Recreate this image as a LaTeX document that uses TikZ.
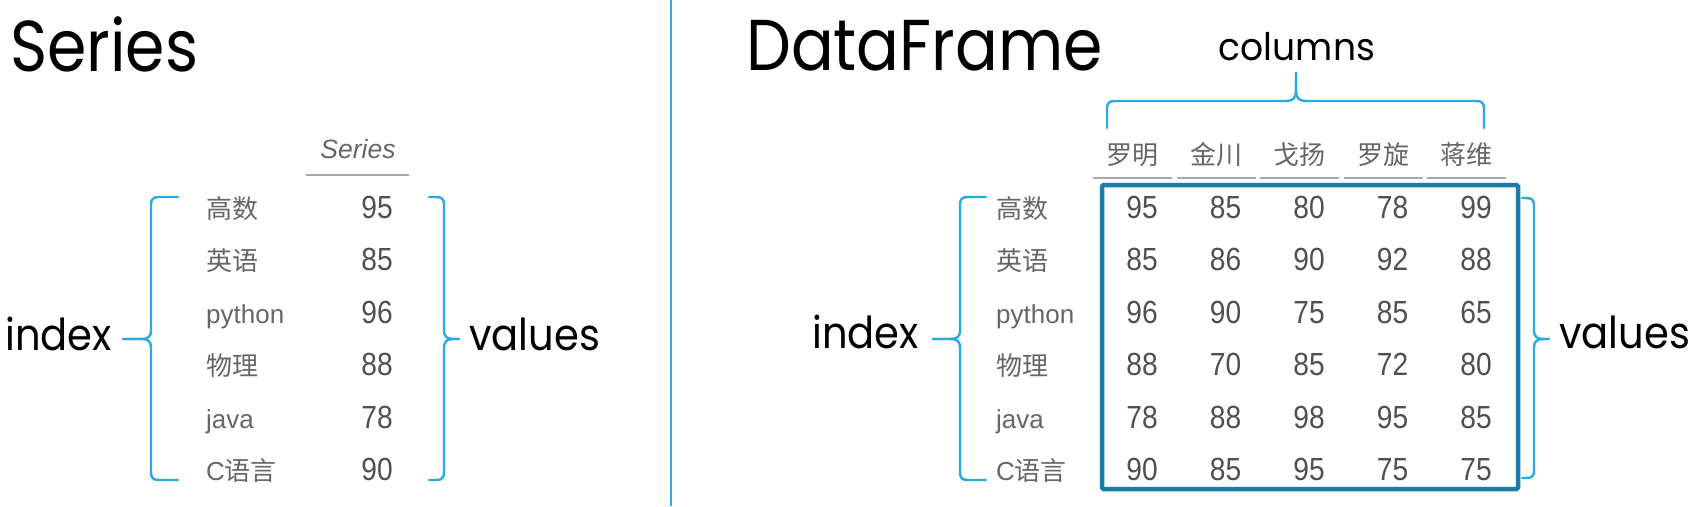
\documentclass[tikz,border=0pt]{standalone}
\usepackage{fontspec}
\setmainfont{Poppins}
\newfontfamily\titlefont{Poppins}[FakeStretch=0.88]
\newfontfamily\labfont{Poppins}[FakeStretch=0.91]
\newfontfamily\colfont{Poppins}[FakeStretch=0.95]
\newfontfamily\tabfont{Liberation Sans}
\newfontfamily\numfont{Liberation Sans}[FakeStretch=0.88]
\newfontfamily\cjk{Noto Sans CJK SC}
\definecolor{braceblue}{HTML}{29ABE2}
\definecolor{boxblue}{HTML}{187DA8}
\definecolor{idxgray}{HTML}{666666}
\definecolor{numgray}{HTML}{505050}
\definecolor{rulegray}{HTML}{A8A8A8}
% vertical brace: #1 end x, #2 spine x, #3 tip x, #4 top, #5 mid, #6 bottom, #7 side (1 = tip left, -1 = tip right)
\newcommand\myVbrace[7]{%
  \draw[bracestyle] (#1,#4) -- ({#2+8*#7},#4) .. controls ({#2+2*#7},#4) and (#2,{#4+2}) .. (#2,{#4+8})
     -- (#2,{#5-9}) .. controls (#2,{#5-2}) and ({#2-3*#7},#5) .. ({#2-10*#7},#5) -- (#3,#5);
  \draw[bracestyle] (#3,#5) -- ({#2-10*#7},#5) .. controls ({#2-3*#7},#5) and (#2,{#5+2}) .. (#2,{#5+9})
     -- (#2,{#6-8}) .. controls (#2,{#6-2}) and ({#2+2*#7},#6) .. ({#2+8*#7},#6) -- (#1,#6);
}
\begin{document}
\begin{tikzpicture}[x=1pt,y=-1pt,
  titlestyle/.style={font=\fontsize{72}{72}\selectfont\titlefont, anchor=base west, inner sep=0pt},
  labstyle/.style={font=\fontsize{44}{44}\selectfont\labfont, anchor=base west, inner sep=0pt},
  idxstyle/.style={font=\fontsize{26}{26}\selectfont\tabfont, text=idxgray, anchor=base west, inner sep=0pt},
  hdrstyle/.style={font=\fontsize{26}{26}\selectfont\cjk, text=idxgray, anchor=base, inner sep=0pt},
  numstyle/.style={font=\fontsize{32}{32}\selectfont\numfont, text=numgray, anchor=base east, inner sep=0pt},
  bracestyle/.style={draw=braceblue, line width=2.4pt, line join=round, line cap=round},
  rulestyle/.style={draw=rulegray, line width=2pt}]
\useasboundingbox[fill=white] (0,0) rectangle (1697,506);

% divider
\coordinate (divtop) at (671,0);
\coordinate (divbot) at (671,506);
\draw[draw=braceblue, line width=2pt] (divtop) -- (divbot);

% titles
\node[titlestyle] (titleS) at (10,71) {Series};
\node[titlestyle] (titleD) at (746,70) {DataFrame};

% ---------- Series ----------
\node[font=\fontsize{26.5}{26.5}\selectfont\tabfont\itshape, text=idxgray, anchor=base, inner sep=0pt] (hdrS) at (358,158) {Series};
\coordinate (hdrSl) at (306,175);
\coordinate (hdrSr) at (409,175);
\draw[draw=rulegray, line width=1.6pt] (hdrSl) -- (hdrSr);

\foreach \t [count=\i] in {{\cjk 高数},{\cjk 英语},python,{\cjk 物理},java,{C\cjk 语言}} {
  \node[idxstyle] (sidx\i) at (206,{218+52.5*(\i-1)}) {\t};
}
\foreach \v [count=\i] in {95,85,96,88,78,90} {
  \node[numstyle] (sval\i) at (393,{218+52.5*(\i-1)}) {\v};
}

\myVbrace{178}{151}{123}{197}{339}{480}{1}
\coordinate (sLtip) at (123,339);
\myVbrace{429}{444}{459}{197}{339}{480}{-1}
\coordinate (sRtip) at (459,339);
\node[labstyle] (sindex) at (5,350) {index};
\node[labstyle] (svalues) at (469,350) {values};

% ---------- DataFrame ----------
\foreach \h [count=\j] in {罗明,金川,戈扬,罗旋,蒋维} {
  \node[hdrstyle] (dh\j) at ({1132.5+83.5*(\j-1)},164) {\h};
  \coordinate (dhl\j) at ({1132.5+83.5*(\j-1)-39.5},178);
  \coordinate (dhr\j) at ({1132.5+83.5*(\j-1)+39.5},178);
  \draw[rulestyle] (dhl\j) -- (dhr\j);
}

\foreach \t [count=\i] in {{\cjk 高数},{\cjk 英语},python,{\cjk 物理},java,{C\cjk 语言}} {
  \node[idxstyle] (didx\i) at (996,{218+52.5*(\i-1)}) {\t};
}

\foreach \row [count=\i] in {{95,85,80,78,99},{85,86,90,92,88},{96,90,75,85,65},{88,70,85,72,80},{78,88,98,95,85},{90,85,95,75,75}} {
  \foreach \v [count=\j] in \row {
    \node[numstyle] (dv\i\j) at ({1158+83.5*(\j-1)},{218+52.5*(\i-1)}) {\v};
  }
}

\coordinate (boxtl) at (1102,185);
\coordinate (boxbr) at (1518,489);
\draw[draw=boxblue, line width=4.5pt, rounded corners=1.5pt] (boxtl) rectangle (boxbr);

\myVbrace{986}{960}{933}{197}{339}{480}{1}
\coordinate (dLtip) at (933,339);
\myVbrace{1522}{1534}{1549}{198}{339}{478}{-1}
\coordinate (dRtip) at (1549,339);
\node[labstyle] (dindex) at (812,348) {index};
\node[labstyle] (dvalues) at (1559,348) {values};

% columns brace
\draw[bracestyle] (1107,128) -- (1107,109) .. controls (1107,103) and (1109,101) .. (1115,101)
   -- (1286,101) .. controls (1293,101) and (1296,98) .. (1296,91) -- (1296,73);
\draw[bracestyle] (1296,73) -- (1296,91) .. controls (1296,98) and (1299,101) .. (1306,101)
   -- (1476,101) .. controls (1482,101) and (1484,103) .. (1484,109) -- (1484,128);
\coordinate (ctip) at (1296,73);
\node[font=\fontsize{38}{38}\selectfont\colfont, anchor=base, inner sep=0pt] (columns) at (1297,60) {columns};
\end{tikzpicture}
\end{document}
